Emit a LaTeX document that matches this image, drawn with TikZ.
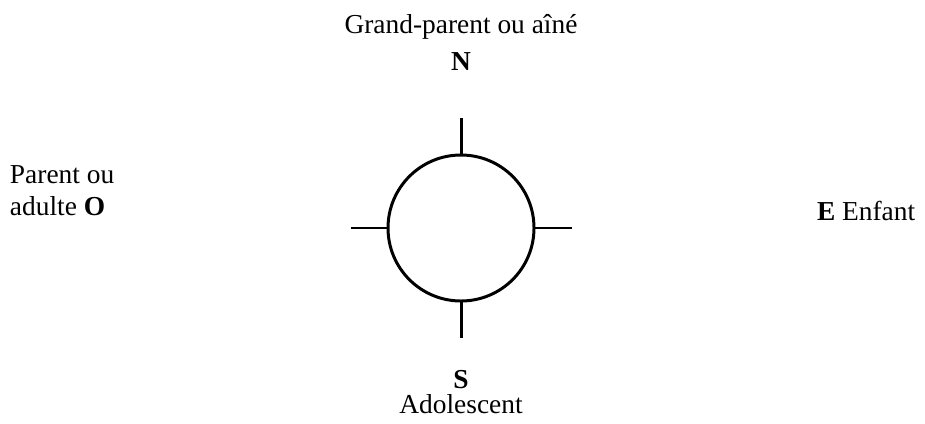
\documentclass[tikz,border=0pt]{standalone}
\usepackage{fontspec}
\setmainfont{Liberation Serif}
\usetikzlibrary{positioning}
\tikzset{
  every node/.style = {font=\fontsize{15.6}{18.2}\selectfont, inner sep=0pt, outer sep=0pt},
  rim/.style        = {draw=black, line width=1.7pt},
  tick/.style       = {draw=black, line width=1.7pt},
  dirlab/.style     = {anchor=base, align=center},
  dirletter/.style  = {anchor=base, font=\fontsize{15.6}{18.2}\selectfont\bfseries},
}

\begin{document}
\begin{tikzpicture}[x=0.02cm, y=-0.02cm]
\useasboundingbox (0,0) rectangle (925,423);

% circle and the four ticks
\node[rim, circle, minimum size=146*0.02cm] (disc) at (461,228) {};
\coordinate (ntop) at (461,118);
\coordinate (sbot) at (461,338);
\coordinate (wend) at (351,228);
\coordinate (eend) at (572,228);
\draw[tick] (disc.north) -- (ntop);
\draw[tick] (disc.south) -- (sbot);
\draw[tick] (disc.west)  -- (wend);
\draw[tick] (disc.east)  -- (eend);

% north
\node[dirlab]    (nlab) at (461,33) {Grand-parent ou aîné};
\node[dirletter] (nlet) at (461,70) {N};

% south
\node[dirletter] (slet) at (461,388) {S};
\node[dirlab]    (slab) at (461,413) {Adolescent};

% west
\node[anchor=base west] (wlab1) at (10,183) {Parent ou};
\node[anchor=base west] (wlab2) at (10,215) {adulte \textbf{O}};

% east
\node[anchor=base west] (elab) at (817,220) {\textbf{E} Enfant};
\end{tikzpicture}
\end{document}
